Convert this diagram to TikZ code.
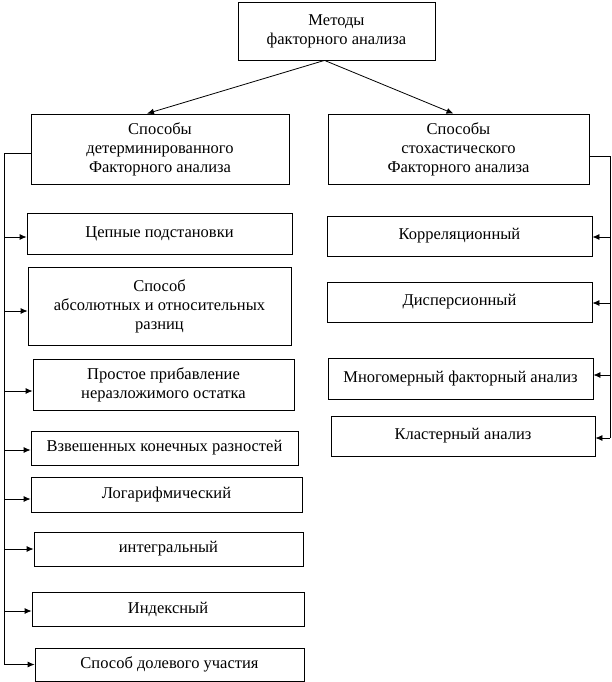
\documentclass[tikz,border=0pt]{standalone}
\usepackage{fontspec}
\setmainfont{Liberation Serif}
\usetikzlibrary{arrows.meta}
\begin{document}
\begin{tikzpicture}
		[x=1pt,y=-1pt,
		box/.style={rectangle,draw=black,line width=.8pt,align=center,inner sep=0pt,font=\fontsize{16.5}{19}\selectfont},
		conn/.style={line width=.8pt},
		arr/.style={conn,-{Latex[length=7pt,width=6pt]}}
		]
		\useasboundingbox (0,0) rectangle (612,682);
		\node[box,minimum width=197,minimum height=58] (top) at (336.5,31){Методы\\факторного анализа};
		\node[box,minimum width=258,minimum height=70] (det) at (160,149){Способы\\детерминированного\\Факторного анализа};
		\node[box,minimum width=261,minimum height=70] (sto) at (458.5,149){Способы\\стохастического\\Факторного анализа};

		\node[box,minimum width=265,minimum height=41] (d1) at (159.5,233.5){Цепные подстановки};
		\node[box,minimum width=263,minimum height=78] (d2) at (159.5,306){Способ\\абсолютных и относительных\\разниц};
		\node[box,minimum width=261,minimum height=51] (d3) at (163.5,384.5){Простое прибавление\\неразложимого остатка};
		\node[box,minimum width=267,minimum height=34] (d4) at (164.5,448){Взвешенных конечных разностей};
		\node[box,minimum width=271,minimum height=35] (d5) at (166.5,494.5){Логарифмический};
		\node[box,minimum width=269,minimum height=34] (d6) at (168.5,549){интегральный};
		\node[box,minimum width=272,minimum height=34] (d7) at (168,609){Индексный};
		\node[box,minimum width=269,minimum height=33] (d8) at (169.5,664.5){Способ долевого участия};

		\node[box,minimum width=265,minimum height=40] (s1) at (459.5,236){Корреляционный};
		\node[box,minimum width=265,minimum height=40] (s2) at (459.5,302){Дисперсионный};
		\node[box,minimum width=265,minimum height=41] (s3) at (460.5,378.5){Многомерный факторный анализ};
		\node[box,minimum width=264,minimum height=40] (s4) at (463,436){Кластерный анализ};

		\draw[arr] ([xshift=-12pt]top.south) -- ([xshift=-13pt]det.north);
		\draw[arr] ([xshift=-12pt]top.south) -- ([xshift=-5pt]sto.north);

		% left bus
		\coordinate (lbus) at (4,153);
		\coordinate (lend) at (4,664);
		\draw[conn] ([yshift=-4pt]det.west) -- (lbus) -- (lend);
		\foreach \n/\d in {d1/3.5,d2/5,d3/6.5,d4/2,d5/4.5,d6/0,d7/2,d8/0}{
			\coordinate (e) at ([yshift=-\d pt]\n.west);
			\draw[arr] (lbus |- e) -- (e);
		}

		% right bus
		\coordinate (rbus) at (610,156);
		\coordinate (rend) at (610,438);
		\draw[conn] ([yshift=-7pt]sto.east) -- (rbus) -- (rend);
		\foreach \n/\d in {s1/1,s2/1,s3/-3.5,s4/2}{
			\coordinate (e) at ([yshift=-\d pt]\n.east);
			\draw[arr] (rbus |- e) -- (e);
		}
	\end{tikzpicture}
\end{document}
